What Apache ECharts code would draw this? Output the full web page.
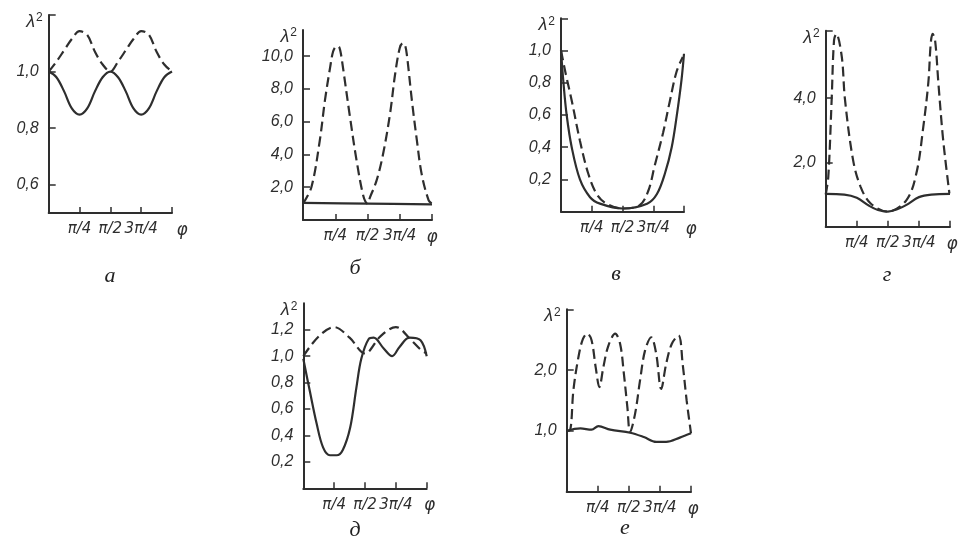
<!DOCTYPE html>
<html>
<head>
<meta charset="utf-8">
<script src="https://cdn.jsdelivr.net/npm/echarts@6/dist/echarts.min.js"></script>
<style>
  html, body { margin: 0; padding: 0; background: #fff; }
  #chart { width: 962px; height: 550px; }
</style>
</head>
<body>
<div id="chart"></div>
<script>
// phi is given in fractions of pi (0 .. 1)
var xTicks = [0.25, 0.5, 0.75, 1];
var xTickNames = {0.25: 'π/4', 0.5: 'π/2', 0.75: '3π/4', 1: 'φ'};

// panel а
var phiA = [0, 0.0625, 0.125, 0.1875, 0.25, 0.3125, 0.375, 0.4375, 0.5, 0.5625, 0.625, 0.6875, 0.75, 0.8125, 0.875, 0.9375, 1];
var dashA = [1.0, 1.035, 1.075, 1.115, 1.143, 1.13, 1.07, 1.025, 1.0, 1.035, 1.075, 1.115, 1.143, 1.13, 1.07, 1.025, 1.0];
var solidA = [1.0, 0.98, 0.93, 0.87, 0.848, 0.87, 0.93, 0.98, 1.0, 0.98, 0.93, 0.87, 0.848, 0.87, 0.93, 0.98, 1.0];
var yTicksA = [0.6, 0.8, 1.0];

// panel б
var phiDashB = [0, 0.065, 0.13, 0.17, 0.21, 0.234, 0.26, 0.275, 0.29, 0.31, 0.364, 0.416, 0.47, 0.5, 0.52, 0.57, 0.62, 0.675, 0.714, 0.75, 0.774, 0.79, 0.805, 0.844, 0.883, 0.92, 0.974, 1];
var dashB = [1.0, 2.0, 4.85, 7.3, 9.3, 10.3, 10.6, 10.6, 10.3, 9.3, 6.3, 3.6, 1.4, 1.0, 1.4, 2.4, 4.0, 6.5, 8.9, 10.5, 10.8, 10.7, 10.1, 7.3, 4.85, 2.8, 1.2, 1.0];
var phiSolidB = [0, 0.5, 1];
var solidB = [1.05, 1.0, 0.95];
var yTicksB = [2, 4, 6, 8, 10];

// panel в
var phiDashV = [0, 0.04, 0.087, 0.154, 0.22, 0.29, 0.37, 0.5, 0.64, 0.71, 0.76, 0.83, 0.886, 0.94, 0.99];
var dashV = [1.0, 0.85, 0.69, 0.44, 0.24, 0.11, 0.05, 0.02, 0.04, 0.13, 0.28, 0.49, 0.69, 0.87, 0.96];
var phiSolidV = [0, 0.02, 0.046, 0.087, 0.154, 0.236, 0.317, 0.5, 0.7, 0.78, 0.846, 0.9, 0.94, 0.98, 1];
var solidV = [1.0, 0.8, 0.6, 0.4, 0.2, 0.09, 0.05, 0.02, 0.05, 0.11, 0.24, 0.4, 0.59, 0.82, 0.98];
var yTicksV = [0.2, 0.4, 0.6, 0.8, 1.0];

// panel г
var phiDashG = [0, 0.021, 0.048, 0.067, 0.085, 0.129, 0.155, 0.22, 0.28, 0.36, 0.5, 0.65, 0.73, 0.785, 0.826, 0.845, 0.86, 0.88, 0.906, 0.94, 0.968, 0.995];
var dashG = [1.0, 1.56, 3.96, 5.8, 6.0, 5.3, 3.96, 2.08, 1.25, 0.73, 0.47, 0.83, 1.67, 3.1, 4.5, 5.7, 6.0, 5.8, 4.5, 2.9, 1.9, 1.04];
var phiSolidG = [0, 0.15, 0.25, 0.35, 0.42, 0.5, 0.58, 0.65, 0.75, 0.85, 1];
var solidG = [1.02, 1.0, 0.9, 0.65, 0.52, 0.47, 0.55, 0.68, 0.92, 1.0, 1.02];
var yTicksG = [2, 4];

// panel д
var phiDashD = [0, 0.125, 0.25, 0.375, 0.5, 0.625, 0.75, 0.875, 0.95, 1];
var dashD = [1.0, 1.15, 1.22, 1.14, 1.02, 1.15, 1.22, 1.12, 1.05, 1.02];
var phiSolidD = [0, 0.054, 0.108, 0.16, 0.216, 0.27, 0.32, 0.38, 0.43, 0.47, 0.53, 0.57, 0.65, 0.72, 0.78, 0.86, 0.95, 1];
var solidD = [0.98, 0.73, 0.49, 0.31, 0.25, 0.25, 0.29, 0.46, 0.76, 0.98, 1.13, 1.14, 1.06, 1.0, 1.07, 1.14, 1.12, 1.0];
var yTicksD = [0.2, 0.4, 0.6, 0.8, 1.0, 1.2];

// panel е
var phiDashE = [0, 0.027, 0.054, 0.094, 0.13, 0.166, 0.2, 0.233, 0.263, 0.295, 0.335, 0.39, 0.43, 0.46, 0.488, 0.51, 0.55, 0.59, 0.63, 0.68, 0.72, 0.76, 0.8, 0.845, 0.9, 0.933, 0.965, 1];
var dashE = [1.0, 1.01, 1.67, 2.21, 2.51, 2.6, 2.49, 2.05, 1.72, 2.05, 2.4, 2.6, 2.43, 1.94, 1.39, 0.98, 1.28, 1.83, 2.32, 2.54, 2.27, 1.69, 2.1, 2.43, 2.57, 2.1, 1.5, 0.96];
var phiSolidE = [0, 0.11, 0.2, 0.255, 0.35, 0.51, 0.62, 0.72, 0.8, 0.91, 1];
var solidE = [1.0, 1.04, 1.02, 1.08, 1.02, 0.97, 0.9, 0.82, 0.82, 0.89, 0.96];
var yTicksE = [1.0, 2.0];

var captions = ['а', 'б', 'в', 'г', 'д', 'е'];

var INK = '#2e2e2e';
var FONT = "'Liberation Sans', Arial, sans-serif";
var XFONT = "'DejaVu Sans', sans-serif";

function pairs(xs, ys) {
    return xs.map(function (x, i) { return [x, ys[i]]; });
}

// panel layout: grid box in pixels, y range, ticks, whether the axis top has a cap tick
var panels = [
    {box: [48.7, 15, 123.3, 198], y: [0.5, 1.2], ticks: yTicksA, cap: true, lines: [ [phiA, dashA], [phiA, solidA] ], label: [110, 276], phiPad: 20},
    {box: [303, 30, 129, 190], y: [0, 11.6], ticks: yTicksB, cap: false, lines: [ [phiDashB, dashB], [phiSolidB, solidB] ], label: [355, 268], phiPad: 0},
    {box: [561, 18.3, 123, 193.4], y: [0, 1.2], ticks: yTicksV, cap: true, lines: [ [phiDashV, dashV], [phiSolidV, solidV] ], label: [616, 274], phiPad: 14},
    {box: [825.7, 30.7, 124.3, 196], y: [0, 6.1], ticks: yTicksG, cap: true, lines: [ [phiDashG, dashG], [phiSolidG, solidG] ], label: [887, 275], phiPad: 4},
    {box: [303.3, 303.3, 123.4, 185], y: [0, 1.4], ticks: yTicksD, cap: false, lines: [ [phiDashD, dashD], [phiSolidD, solidD] ], label: [355, 530], phiPad: 6},
    {box: [566.7, 309.3, 124.3, 182.4], y: [0, 3], ticks: yTicksE, cap: true, lines: [ [phiDashE, dashE], [phiSolidE, solidE] ], label: [625, 528], phiPad: 4}
];

var option = {
    backgroundColor: '#fff',
    animation: false,
    grid: [], xAxis: [], yAxis: [], series: [], graphic: []
};

panels.forEach(function (p, i) {
    option.grid.push({
        left: p.box[0], top: p.box[1], width: p.box[2], height: p.box[3],
        outerBoundsMode: 'none'
    });
    option.xAxis.push({
        gridIndex: i, type: 'value', min: 0, max: 1,
        axisLine: {show: true, lineStyle: {color: INK, width: 2}},
        axisTick: {show: true, inside: true, length: 6, customValues: xTicks, lineStyle: {color: INK, width: 1.5}},
        splitLine: {show: false},
        axisLabel: {
            customValues: xTicks, margin: 9, color: INK, fontSize: 15, fontStyle: 'italic', fontFamily: XFONT,
            formatter: function (v) { return v === 1 ? '{phi|φ}' : xTickNames[v]; },
            rich: {phi: {fontSize: 17, fontStyle: 'italic', color: INK, fontFamily: XFONT, padding: [0, 0, 0, p.phiPad]}}
        }
    });
    var tickVals = p.cap ? p.ticks.concat([p.y[1]]) : p.ticks;
    option.yAxis.push({
        gridIndex: i, type: 'value', min: p.y[0], max: p.y[1],
        name: '{l|λ}{s|2}', nameLocation: 'end', nameGap: -7, nameMoveOverlap: false,
        nameTextStyle: {
            align: 'right', verticalAlign: 'middle', padding: [0, 6, 0, 0],
            rich: {
                l: {fontSize: 18, fontStyle: 'italic', color: INK, fontFamily: FONT},
                s: {fontSize: 12, color: INK, fontFamily: FONT, verticalAlign: 'top', padding: [0, 0, 8, 1]}
            }
        },
        axisLine: {show: true, lineStyle: {color: INK, width: 2}},
        axisTick: {show: true, inside: true, length: 7, customValues: tickVals, lineStyle: {color: INK, width: 1.5}},
        splitLine: {show: false},
        axisLabel: {
            customValues: p.ticks, margin: 10, color: INK, fontSize: 16, fontStyle: 'italic', fontFamily: FONT,
            formatter: function (v) { return v.toFixed(1).replace('.', ','); }
        }
    });
    p.lines.forEach(function (s, k) {
        option.series.push({
            type: 'line', xAxisIndex: i, yAxisIndex: i,
            data: pairs(s[0], s[1]),
            showSymbol: false, smooth: 0.35,
            lineStyle: {color: INK, width: 2.2, type: k === 0 ? [10, 5] : 'solid'}
        });
    });
    option.graphic.push({
        type: 'text', x: p.label[0], y: p.label[1],
        style: {text: captions[i], fill: '#222', font: 'italic 22px "Liberation Serif", serif', align: 'center', verticalAlign: 'middle'}
    });
});

var chart = echarts.init(document.getElementById('chart'), null, {renderer: 'canvas'});
chart.setOption(option);
</script>
</body>
</html>
